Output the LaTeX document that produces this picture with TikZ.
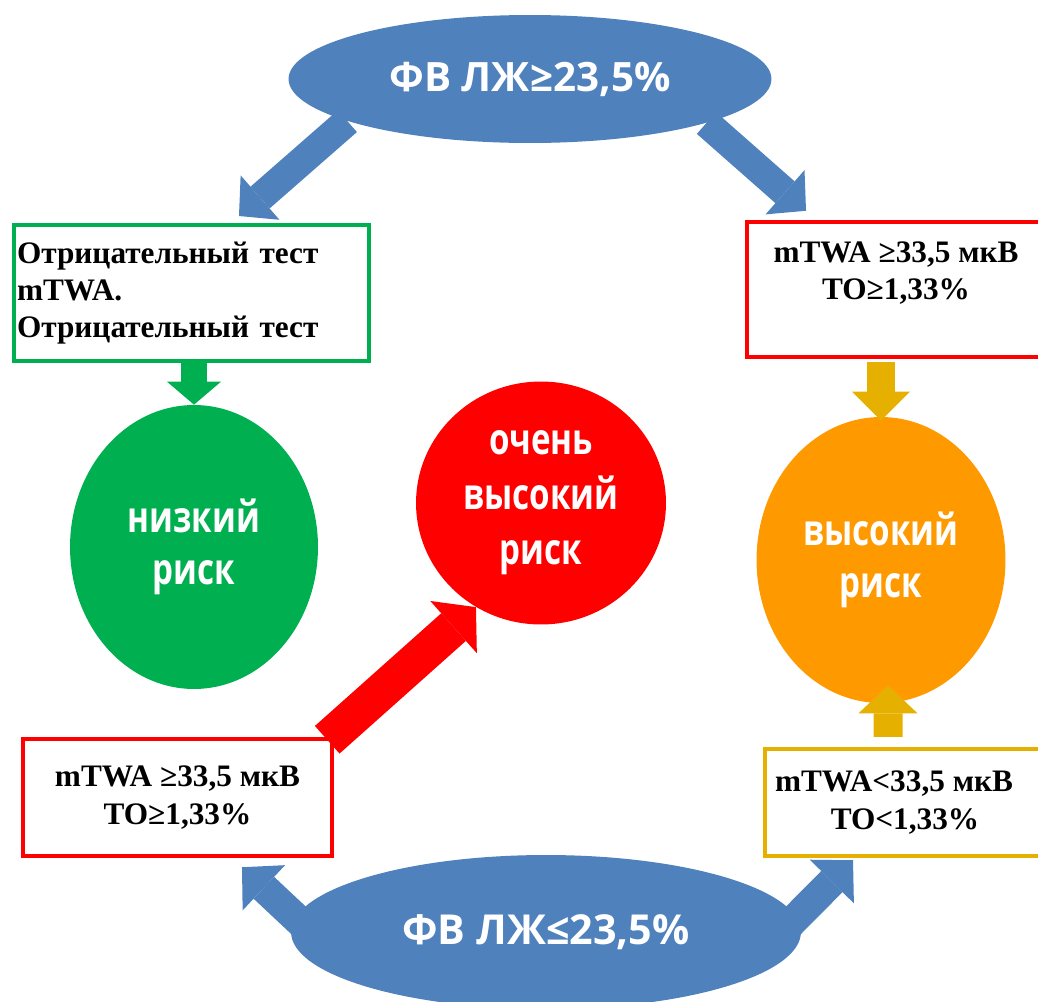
\documentclass[tikz,border=0pt]{standalone}
\usepackage{fontspec}
\setmainfont{Liberation Serif}
\newfontfamily\bubblefont{Open Sans}
\newfontfamily\narrowbubblefont{Open Sans}[FakeStretch=0.77]
\usetikzlibrary{arrows.meta, shapes.geometric, positioning}
\definecolor{fvblue}{HTML}{4F81BD}
\definecolor{lowgreen}{HTML}{00B050}
\definecolor{riskred}{HTML}{FF0000}
\definecolor{riskorange}{HTML}{FF9900}
\definecolor{riskgold}{HTML}{E6B000}

\begin{document}
\begin{tikzpicture}[x=0.02cm, y=-0.02cm,
	bubble/.style={ellipse, inner sep=0pt, text=white, align=center,
		font=\narrowbubblefont\bfseries\fontsize{24.5}{29.6}\selectfont},
	testbox/.style={rectangle, draw, fill=white, line width=0.09cm, inner sep=0.06cm,
		font=\bfseries\fontsize{17.8}{21.3}\selectfont},
	blockarrow/.style n args={3}{line width=#1, line cap=butt,
		-{Triangle[length=#2, width=#3, line width=0pt]}}]

		\useasboundingbox (0,0) rectangle (1038,1001);

		% ellipses
		\node[bubble, fill=fvblue, minimum width=9.66cm, minimum height=2.56cm,
			font=\bubblefont\bfseries\fontsize{23}{28}\selectfont] (fvtop) at (530,79) {ФВ ЛЖ≥23,5\%};
		\node[bubble, fill=fvblue, minimum width=10.2cm, minimum height=3.08cm,
			font=\bubblefont\bfseries\fontsize{23.5}{28}\selectfont] (fvbot) at (546,932) {ФВ ЛЖ≤23,5\%};
		\node[bubble, fill=lowgreen, minimum width=4.96cm, minimum height=5.68cm] (low) at (194,547) {низкий\\риск};
		\node[bubble, fill=riskred, minimum width=5cm, minimum height=4.86cm,
			font=\narrowbubblefont\bfseries\fontsize{24.5}{31.3}\selectfont] (vhigh) at (541,503) {очень\\высокий\\риск};
		\node[bubble, fill=riskorange, minimum width=4.98cm, minimum height=5.72cm] (high) at (881,560) {высокий\\риск};

		% test boxes
		\node[testbox, draw=lowgreen, line width=0.08cm, minimum width=7.1cm, minimum height=2.72cm,
			text width=6.98cm, align=left] (negtest) at (191.5,293) {Отрицательный тест\\mTWA.\\Отрицательный тест};
		\node[testbox, draw=riskred, minimum width=5.96cm, minimum height=2.7cm, align=center]
			(postest) at (896,289.5) {mTWA ≥33,5 мкВ\\TO≥1,33\%\\\mbox{}};
		\node[testbox, draw=riskred, minimum width=6.18cm, minimum height=2.34cm, align=center]
			(posbelow) at (177.5,797.5) {mTWA ≥33,5 мкВ\\TO≥1,33\%};
		\node[testbox, draw=riskgold, minimum width=5.6cm, minimum height=2.14cm, align=center]
			(negbelow) at (905,802.5) {mTWA<33,5 мкВ\kern0.44cm\\TO<1,33\%};

		% arrows
		\draw[blockarrow={0.58cm}{0.56cm}{1.18cm}, fvblue] (fvtop.193) -- ([xshift=0.95cm, yshift=0.14cm]negtest.north);
		\draw[blockarrow={0.58cm}{0.56cm}{1.18cm}, fvblue] (fvtop.346) -- ([xshift=-1.8cm, yshift=0.18cm]postest.north);
		\draw[blockarrow={0.54cm}{0.46cm}{1.08cm}, lowgreen] (low.north |- negtest.south) -- (low.north);
		\draw[blockarrow={0.56cm}{0.58cm}{1.16cm}, riskgold, shorten <=0.05cm] (high.north |- postest.south) -- ([yshift=-0.08cm]high.north);
		\draw[blockarrow={0.58cm}{0.56cm}{1.18cm}, riskgold] ([xshift=-0.34cm, yshift=0.2cm]negbelow.north) -- ([xshift=0.14cm, yshift=0.36cm]high.south);
		\draw[blockarrow={0.74cm}{0.6cm}{1.4cm}, riskred] ([xshift=-0.14cm, yshift=-0.06cm]posbelow.north east) -- (vhigh.238);
		\draw[blockarrow={0.6cm}{0.6cm}{1.24cm}, fvblue] ([xshift=-4.36cm, yshift=-0.32cm]fvbot.center) -- ([xshift=1.29cm, yshift=-0.18cm]posbelow.south);
		\draw[blockarrow={0.6cm}{0.6cm}{1.24cm}, fvblue] ([xshift=4.48cm, yshift=-0.24cm]fvbot.center) -- ([xshift=-1.04cm, yshift=-0.04cm]negbelow.south);

\end{tikzpicture}
\end{document}
